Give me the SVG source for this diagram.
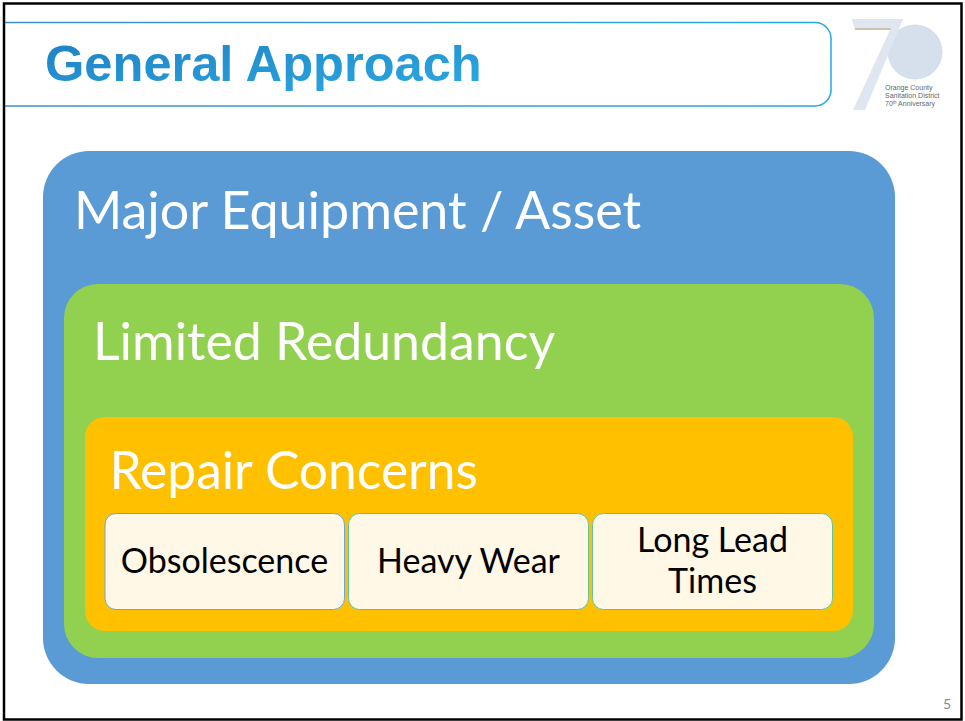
<svg xmlns="http://www.w3.org/2000/svg" width="965" height="721" viewBox="0 0 965 721">
<defs>
<linearGradient id="tg" x1="0" y1="0" x2="1" y2="1"><stop offset="0" stop-color="#1f7fc4"/><stop offset="1" stop-color="#2aaae2"/></linearGradient>
<linearGradient id="hb" x1="0" y1="0" x2="1" y2="0"><stop offset="0" stop-color="#3f8fd0"/><stop offset="1" stop-color="#22a8e0"/></linearGradient>
</defs>
<style>
.w{font-family:Lato,"Open Sans",sans-serif;fill:#fff}
.b{font-family:Lato,"Open Sans",sans-serif;fill:#000;font-size:34px;text-anchor:middle}
.c{fill:#fff8e7;stroke-width:1}
.s{font-family:"Liberation Sans",sans-serif;font-size:7px;fill:#666}
</style>
<rect width="965" height="721" fill="#fff"/>
<g id="header">
<path d="M5 22.500H815a16 16 0 0 1 16 16V90a16 16 0 0 1-16 16H5" fill="#fff" stroke="url(#hb)" stroke-width="1.500"/>
<text x="45" y="81" font-family="'Liberation Sans',sans-serif" font-weight="700" font-size="50.600" fill="url(#tg)">General Approach</text>
</g>
<g id="logo">
<circle cx="915" cy="52" r="27.500" fill="#d6e0ec"/>
<polygon points="852,19 903,19 865,110 853,110 890,30 855,30" fill="#dfe6ef"/>
<path d="M855 28H891L890 30H855Z" fill="#cdbfa9"/>
<text class="s" x="885" y="90">Orange County</text>
<text class="s" x="885" y="98">Sanitation District</text>
<text class="s" x="885" y="106">70<tspan font-size="4.500" dy="-2">th</tspan><tspan dy="2"> Anniversary</tspan></text>
</g>
<g id="major-equipment">
<rect x="43" y="151" width="852" height="533" rx="46" fill="#5b9bd5"/>
<text class="w" x="74" y="229" font-size="52">Major Equipment / Asset</text>
</g>
<g id="limited-redundancy">
<rect x="64" y="284" width="810" height="374" rx="34" fill="#92d050"/>
<text class="w" x="93" y="360" font-size="51.800">Limited Redundancy</text>
</g>
<g id="repair-concerns">
<rect x="85" y="417" width="768" height="214" rx="20" fill="#ffc000"/>
<text class="w" x="109.500" y="488.500" font-size="51.500">Repair Concerns</text>
</g>
<g id="obsolescence">
<rect class="c" x="105" y="513.500" width="239.500" height="96" rx="11" stroke="#6fa3d8"/>
<text class="b" x="224.500" y="572.500">Obsolescence</text>
</g>
<g id="heavy-wear">
<rect class="c" x="348.500" y="513.500" width="240" height="96" rx="11" stroke="#5fc4a0"/>
<text class="b" x="468.500" y="572.500">Heavy Wear</text>
</g>
<g id="long-lead-times">
<rect class="c" x="592.500" y="513.500" width="240" height="96" rx="11" stroke="#5fc4a0"/>
<text class="b" x="712.500" y="551.500">Long Lead</text>
<text class="b" x="712.500" y="592.500">Times</text>
</g>
<g id="connectors"></g>
<text x="947" y="709" font-family="Lato,sans-serif" font-size="14" fill="#8a8a8a" text-anchor="middle">5</text>
<path d="M4 3.500H961.500V719.500H4Z" fill="none" stroke="#000" stroke-width="2.500"/>
</svg>
